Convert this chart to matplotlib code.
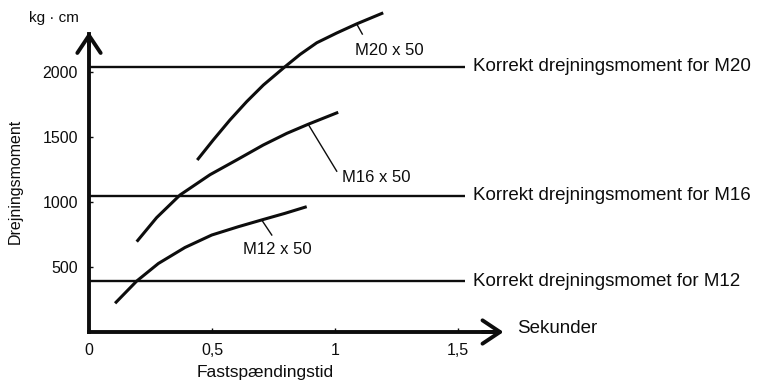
import matplotlib
matplotlib.use("Agg")
import matplotlib.pyplot as plt

# tightening time (s) vs torque (kg*cm)
m20_t = [0.440, 0.505, 0.573, 0.641, 0.709, 0.797, 0.858, 0.926, 1.007, 1.088, 1.196]
m20_v = [1323, 1477, 1631, 1772, 1900, 2041, 2135, 2225, 2300, 2370, 2455]
m16_t = [0.194, 0.275, 0.370, 0.492, 0.600, 0.708, 0.804, 0.891, 1.013]
m16_v = [695, 880, 1054, 1210, 1323, 1438, 1528, 1598, 1690]
m12_t = [0.106, 0.194, 0.282, 0.390, 0.499, 0.607, 0.702, 0.797, 0.885]
m12_v = [221, 392, 527, 650, 746, 810, 862, 913, 964]

curve_names = ["M20 x 50", "M16 x 50", "M12 x 50"]

# correct torque levels
correct_levels = [2040, 1050, 390]
correct_labels = ["Korrekt drejningsmoment for M20",
                  "Korrekt drejningsmoment for M16",
                  "Korrekt drejningsmomet for M12"]

x_ticks = [0, 0.5, 1, 1.5]
x_ticklabels = ["0", "0,5", "1", "1,5"]
y_ticks = [500, 1000, 1500, 2000]
y_ticklabels = ["500", "1000", "1500", "2000"]

plt.rcParams["font.family"] = ["Liberation Sans", "DejaVu Sans"]
INK = "#0d0d0d"

fig = plt.figure(figsize=(7.57, 3.85), dpi=100)
ax = fig.add_axes([0, 0, 1, 1])
# pixel grid of the scan: origin at (89, 332), 246 px per second, 0.13 px per kg*cm
ax.set_xlim(-89 / 246, (757 - 89) / 246)
ax.set_ylim(-(385 - 332) / 0.13, 332 / 0.13)

for side in ["top", "right"]:
    ax.spines[side].set_visible(False)
ax.spines["left"].set_position(("data", 0))
ax.spines["bottom"].set_position(("data", 0))
ax.spines["left"].set_bounds(0, 2290)
ax.spines["bottom"].set_bounds(0, 1.66)
for side in ["left", "bottom"]:
    ax.spines[side].set_linewidth(2.8)
    ax.spines[side].set_color(INK)
    ax.spines[side].set_capstyle("projecting")

ax.set_xticks(x_ticks)
ax.set_xticklabels(x_ticklabels)
ax.set_yticks(y_ticks)
ax.set_yticklabels(y_ticklabels)
ax.tick_params(direction="in", length=3, width=1, labelsize=11.5, colors=INK)
ax.tick_params(axis="x", pad=8)
ax.tick_params(axis="y", pad=8)

# arrow heads on both axes
head = "->,head_length=0.9,head_width=0.6"
ax.annotate("", xy=(0, 2308), xytext=(0, 2200),
            arrowprops=dict(arrowstyle=head, lw=2.8, color=INK, shrinkA=0, shrinkB=0,
                            mutation_scale=14))
ax.annotate("", xy=(1.685, 0), xytext=(1.6, 0),
            arrowprops=dict(arrowstyle=head, lw=2.8, color=INK, shrinkA=0, shrinkB=0,
                            mutation_scale=14))

# correct torque lines with their labels
ax.hlines(correct_levels, 0, 1.528, color=INK, lw=1.7)
for lev, lab in zip(correct_levels, correct_labels):
    ax.text(1.561, lev, lab, fontsize=13.5, ha="left", va="center", color=INK)

# the curves
curves = [(m20_t, m20_v), (m16_t, m16_v), (m12_t, m12_v)]
for t, v in curves:
    ax.plot(t, v, color=INK, lw=2.2, solid_capstyle="butt", solid_joinstyle="round")

# leader lines: start on a curve point, end near the label
leaders = [(9, 1.111, 2292), (7, 1.007, 1237), (6, 0.743, 746)]
label_pos = [(1.081, 2169), (1.028, 1192), (0.626, 631)]
for (t, v), (i, tx, ty), name, (lx, ly) in zip(curves, leaders, curve_names, label_pos):
    ax.plot([t[i], tx], [v[i], ty], color=INK, lw=1.0)
    ax.text(lx, ly, name, fontsize=12, ha="left", va="center", color=INK)

# axis titles
ax.text(-0.142, 2415, "kg · cm", fontsize=11, ha="center", va="center", color=INK)
ax.text(-0.30, 1161, "Drejningsmoment", fontsize=11.5, rotation=90,
        ha="center", va="center", color=INK)
ax.text(0.715, -308, "Fastspændingstid", fontsize=12.5, ha="center", va="center", color=INK)
ax.text(1.74, 25, "Sekunder", fontsize=13.5, ha="left", va="center", color=INK)

fig.savefig("out.png", dpi=100)
